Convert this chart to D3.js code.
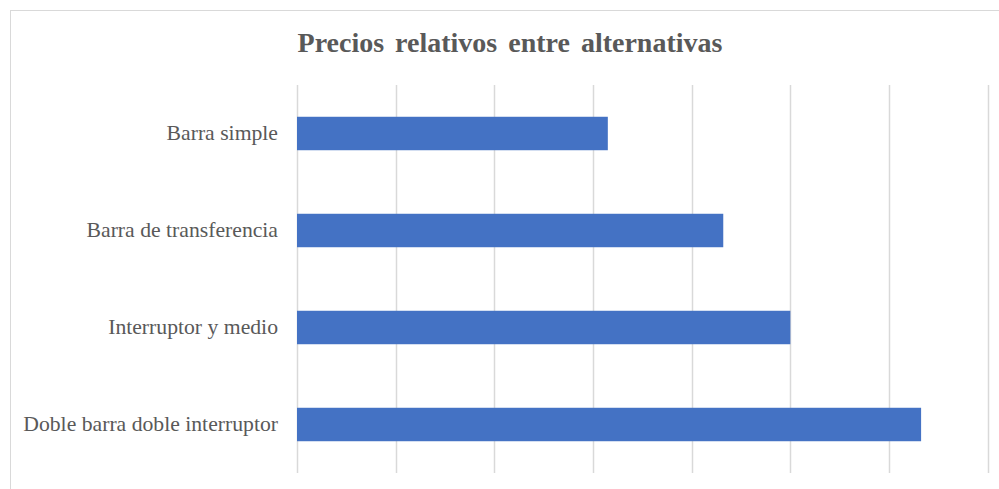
<!DOCTYPE html>
<html>
<head>
<meta charset="utf-8">
<script src="https://cdn.jsdelivr.net/npm/d3@7"></script>
<style>
  html, body { margin: 0; padding: 0; background: #fff; }
  svg { display: block; }
  .cat-axis text { font-family: "Liberation Serif", "Times New Roman", serif; }
</style>
</head>
<body>
<svg id="chart" width="999" height="489"></svg>
<script>
// Relative price of each substation bus arrangement
const categories = [
  "Barra simple",
  "Barra de transferencia",
  "Interruptor y medio",
  "Doble barra doble interruptor"
];
const values = [0.63, 0.864, 1.0, 1.265];
const gridTicks = [0, 0.2, 0.4, 0.6, 0.8, 1.0, 1.2, 1.4];

const svg = d3.select("#chart");
const W = 999, H = 489;
const margin = { top: 85, right: 11, bottom: 16, left: 297 };

// Chart-area frame
svg.append("rect")
  .attr("x", 10.5).attr("y", 10.5)
  .attr("width", W + 20).attr("height", H + 20)
  .attr("fill", "#fff")
  .attr("stroke", "#d9d9d9")
  .attr("stroke-width", 1);

const x = d3.scaleLinear()
  .domain([0, 1.4])
  .range([margin.left, 987.7]);

const gap = 0.655;
const y = d3.scaleBand()
  .domain(categories)
  .range([margin.top, H - margin.bottom])
  .paddingInner(gap)
  .paddingOuter(gap / 2);

// Vertical gridlines
svg.append("g")
  .selectAll("line")
  .data(gridTicks)
  .join("line")
  .attr("x1", d => Math.round(x(d)) + 0.5)
  .attr("x2", d => Math.round(x(d)) + 0.5)
  .attr("y1", margin.top)
  .attr("y2", H - margin.bottom)
  .attr("stroke", "#d9d9d9")
  .attr("stroke-width", 1.5);

// Bars
svg.append("g")
  .selectAll("rect")
  .data(values)
  .join("rect")
  .attr("x", x(0))
  .attr("y", (d, i) => y(categories[i]))
  .attr("width", d => x(d) - x(0))
  .attr("height", y.bandwidth())
  .attr("fill", "#4472C4");

// Category axis (labels only)
const yAxis = svg.append("g")
  .attr("class", "cat-axis")
  .attr("transform", `translate(${margin.left},0)`)
  .call(d3.axisLeft(y).tickSize(0).tickPadding(19))
  .attr("font-family", "'Liberation Serif', 'Times New Roman', serif")
  .attr("font-size", 21.7);
yAxis.select(".domain").remove();
yAxis.selectAll("text")
  .attr("fill", "#595959");

// Title
svg.append("text")
  .attr("x", 510)
  .attr("y", 52)
  .attr("text-anchor", "middle")
  .attr("font-family", "'Liberation Serif', 'Times New Roman', serif")
  .attr("font-weight", "bold")
  .attr("font-size", 28)
  .attr("word-spacing", 4)
  .attr("fill", "#595959")
  .text("Precios relativos entre alternativas");
</script>
</body>
</html>
